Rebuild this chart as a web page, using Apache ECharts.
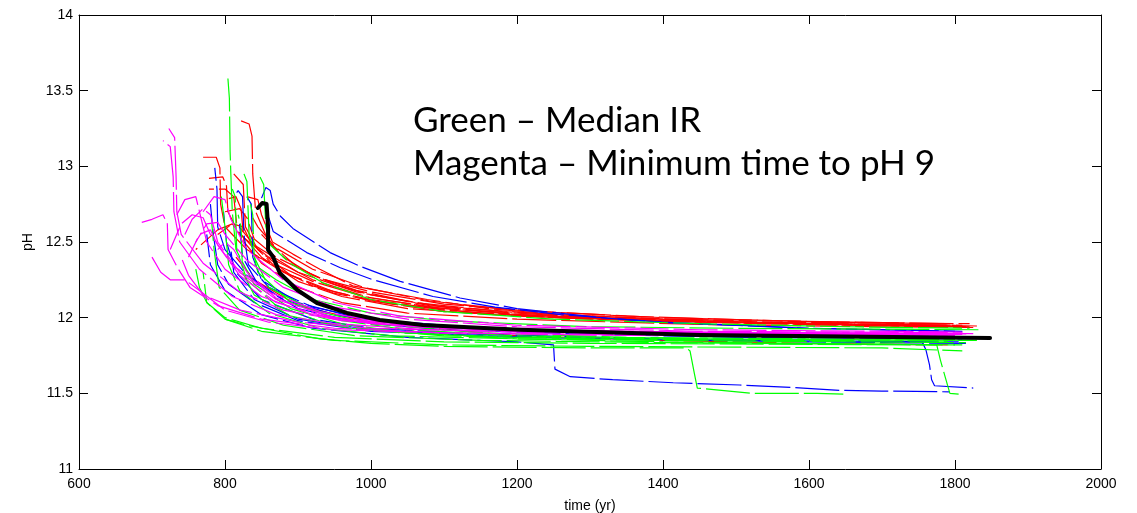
<!DOCTYPE html>
<html>
<head>
<meta charset="utf-8">
<script src="https://cdn.jsdelivr.net/npm/echarts@6/dist/echarts.min.js"></script>
<style>
html,body{margin:0;padding:0;background:#fff;}
#chart{width:1137px;height:513px;}
</style>
</head>
<body>
<div id="chart"></div>
<script>
// Axis ticks
const xTicks = [600, 800, 1000, 1200, 1400, 1600, 1800, 2000];
const yTicks = [11, 11.5, 12, 12.5, 13, 13.5, 14];
const annotationLines = ["Green \u2013 Median IR", "Magenta \u2013 Minimum time to pH 9"];

// Red realisations [time (yr), pH]
const redLines = [
  [[822,13.30],[833,13.28],[837,13.20],[838,12.95],[842,12.70],[860,12.50],[900,12.33],[950,12.22],[1000,12.15],[1100,12.07],[1200,12.02],[1400,11.98],[1600,11.96],[1810,11.95]],
  [[770,13.06],[788,13.06],[793,12.99],[794,12.75],[800,12.60],[830,12.45],[880,12.30],[950,12.17],[1000,12.12],[1100,12.05],[1250,12.00],[1450,11.97],[1650,11.95],[1820,11.94]],
  [[778,12.92],[797,12.93],[802,12.87],[804,12.70],[820,12.55],[860,12.40],[920,12.25],[1000,12.13],[1100,12.06],[1300,12.00],[1500,11.97],[1700,11.95],[1815,11.94]],
  [[778,12.85],[800,12.85],[812,12.80],[816,12.62],[840,12.48],[900,12.30],[980,12.17],[1080,12.08],[1250,12.02],[1500,11.97],[1810,11.94]],
  [[830,12.80],[845,12.78],[850,12.68],[865,12.50],[893,12.42],[930,12.32],[975,12.21],[1077,12.12],[1160,12.06],[1260,12.02],[1400,11.99],[1640,11.97],[1700,11.965],[1770,11.94]],
  [[800,12.70],[820,12.72],[830,12.66],[840,12.52],[870,12.40],[930,12.26],[1000,12.17],[1100,12.09],[1230,12.04],[1400,12.00],[1640,11.97],[1820,11.96]],
  [[790,12.55],[810,12.62],[825,12.60],[835,12.50],[870,12.33],[920,12.21],[1000,12.11],[1100,12.04],[1300,11.99],[1550,11.96],[1800,11.94]],
  [[760,12.45],[790,12.58],[810,12.62],[822,12.55],[850,12.40],[900,12.24],[960,12.14],[1050,12.06],[1200,12.01],[1450,11.97],[1800,11.95]],
  [[812,12.95],[825,12.88],[828,12.60],[845,12.45],[890,12.28],[950,12.16],[1030,12.09],[1150,12.03],[1350,11.99],[1600,11.96],[1805,11.945]],
  [[850,12.55],[860,12.50],[880,12.40],[920,12.28],[980,12.18],[1060,12.10],[1180,12.04],[1350,12.00],[1550,11.97],[1790,11.96]],
  [[845,12.40],[870,12.35],[920,12.24],[990,12.14],[1080,12.07],[1200,12.02],[1400,11.98],[1650,11.955],[1830,11.945]],
  [[800,12.78],[815,12.80],[822,12.72],[826,12.50],[850,12.36],[900,12.20],[960,12.10],[1050,12.03],[1200,11.99],[1450,11.955],[1700,11.94],[1825,11.935]],
  [[838,12.66],[845,12.60],[870,12.46],[920,12.32],[990,12.20],[1080,12.11],[1200,12.05],[1350,12.01],[1550,11.98],[1780,11.96]],
  [[815,12.40],[840,12.25],[900,12.08],[1000,11.97],[1200,11.88],[1400,11.85],[1600,11.83],[1790,11.82]]
];

// Blue realisations
const blueLines = [
  [[850,12.79],[856,12.86],[862,12.84],[866,12.75],[876,12.67],[893,12.59],[944,12.43],[985,12.34],[1040,12.24],[1122,12.13],[1200,12.06],[1314,12.00],[1414,11.965],[1600,11.93],[1810,11.91]],
  [[860,12.66],[866,12.57],[912,12.43],[958,12.33],[1003,12.25],[1085,12.14],[1170,12.07],[1260,12.02],[1400,11.97],[1600,11.93],[1800,11.91]],
  [[786,12.99],[789,12.85],[790,12.60],[800,12.45],[830,12.28],[880,12.12],[950,12.02],[1050,11.95],[1200,11.91],[1400,11.89],[1600,11.88],[1800,11.87]],
  [[812,12.80],[818,12.84],[824,12.80],[826,12.55],[832,12.35],[860,12.20],[920,12.07],[1000,11.99],[1150,11.93],[1350,11.90],[1600,11.88],[1820,11.87]],
  [[830,12.80],[836,12.75],[838,12.40],[850,12.25],[900,12.10],[980,12.00],[1100,11.94],[1300,11.90],[1550,11.88],[1790,11.875]],
  [[775,12.55],[780,12.35],[800,12.18],[850,12.02],[920,11.93],[1050,11.87],[1200,11.84],[1250,11.82],[1252,11.66],[1273,11.61],[1331,11.59],[1414,11.57],[1505,11.555],[1592,11.535],[1642,11.52],[1700,11.515],[1793,11.51]],
  [[798,12.70],[802,12.50],[815,12.30],[850,12.12],[920,11.99],[1000,11.93],[1150,11.89],[1400,11.86],[1600,11.85],[1755,11.84],[1760,11.79],[1765,11.69],[1768,11.59],[1772,11.55],[1825,11.535]],
  [[808,12.45],[812,12.30],[840,12.12],[900,11.99],[1000,11.92],[1150,11.88],[1400,11.855],[1600,11.84],[1815,11.83]],
  [[820,12.62],[824,12.40],[845,12.22],[900,12.06],[980,11.97],[1100,11.92],[1300,11.89],[1500,11.87],[1810,11.86]],
  [[780,12.75],[784,12.55],[790,12.35],[805,12.22],[840,12.10],[900,11.98],[1000,11.91],[1200,11.87],[1500,11.85],[1805,11.84]]
];

// Green realisations
const greenLines = [
  [[804,13.58],[806,13.45],[807,13.10],[808,12.95],[810,12.70],[815,12.45],[840,12.22],[890,12.06],[960,11.96],[1050,11.90],[1200,11.86],[1400,11.84],[1600,11.83],[1810,11.82]],
  [[800,11.99],[830,11.95],[862,11.92],[930,11.86],[1000,11.83],[1100,11.81],[1300,11.80],[1432,11.80],[1437,11.78],[1443,11.63],[1447,11.535],[1523,11.50],[1611,11.50],[1647,11.495]],
  [[770,12.30],[775,12.10],[800,12.00],[850,11.93],[950,11.87],[1100,11.84],[1300,11.83],[1550,11.825],[1775,11.82],[1780,11.72],[1787,11.60],[1793,11.50],[1805,11.495]],
  [[848,12.93],[853,12.88],[856,12.60],[862,12.48],[889,12.36],[934,12.23],[1000,12.12],[1100,12.04],[1250,11.99],[1450,11.96],[1650,11.94],[1820,11.93]],
  [[835,12.75],[838,12.68],[840,12.40],[860,12.20],[920,12.05],[1000,11.96],[1150,11.90],[1350,11.87],[1600,11.86],[1800,11.855]],
  [[782,12.62],[785,12.45],[792,12.20],[820,12.05],[880,11.95],[980,11.88],[1150,11.85],[1400,11.835],[1800,11.82]],
  [[818,12.68],[822,12.60],[824,12.30],[840,12.15],[890,12.01],[970,11.93],[1100,11.88],[1300,11.86],[1550,11.85],[1790,11.845]],
  [[760,12.32],[765,12.20],[775,12.10],[800,11.99],[850,11.91],[950,11.85],[1100,11.82],[1300,11.81],[1500,11.805],[1700,11.80],[1810,11.78]],
  [[826,12.95],[830,12.90],[833,12.55],[845,12.30],[890,12.10],[960,11.98],[1050,11.92],[1200,11.88],[1450,11.86],[1650,11.855],[1825,11.85]],
  [[810,12.85],[814,12.80],[816,12.45],[830,12.25],[870,12.08],[940,11.96],[1040,11.90],[1200,11.87],[1400,11.86],[1600,11.855],[1830,11.85]],
  [[840,12.35],[870,12.25],[920,12.12],[1000,12.03],[1100,11.98],[1300,11.94],[1500,11.93],[1835,11.92]],
  [[795,12.80],[800,12.60],[805,12.35],[820,12.18],[860,12.03],[930,11.93],[1030,11.88],[1200,11.86],[1500,11.845],[1815,11.835]]
];

// Magenta realisations
const magentaLines = [
  [[686,12.63],[700,12.65],[715,12.68],[721,12.62],[722,12.45],[735,12.33],[752,12.20],[790,12.08],[850,11.99],[950,11.93],[1100,11.90],[1300,11.885],[1550,11.88],[1800,11.875]],
  [[723,13.25],[731,13.19],[733,12.93],[734,12.70],[740,12.55],[770,12.36],[820,12.17],[880,12.05],[960,11.98],[1100,11.93],[1300,11.91],[1550,11.895],[1810,11.89]],
  [[715,13.17],[725,13.13],[729,12.93],[730,12.70],[738,12.50],[765,12.32],[810,12.14],[870,12.02],[950,11.96],[1080,11.92],[1300,11.90],[1600,11.89],[1800,11.885]],
  [[734,12.68],[745,12.78],[760,12.80],[765,12.70],[775,12.50],[800,12.32],[850,12.14],[920,12.02],[1000,11.96],[1150,11.92],[1400,11.90],[1800,11.89]],
  [[725,12.45],[740,12.62],[755,12.68],[770,12.66],[780,12.55],[810,12.35],[860,12.17],[930,12.04],[1020,11.97],[1200,11.92],[1500,11.90],[1820,11.895]],
  [[760,12.50],[775,12.62],[790,12.63],[800,12.55],[830,12.38],[880,12.20],[950,12.07],[1050,11.99],[1200,11.94],[1450,11.91],[1810,11.90]],
  [[740,12.40],[750,12.28],[770,12.15],[821,12.05],[900,11.97],[1000,11.93],[1200,11.905],[1500,11.89],[1800,11.885]],
  [[770,12.70],[785,12.80],[800,12.78],[808,12.65],[830,12.45],[880,12.25],[950,12.10],[1040,12.01],[1200,11.95],[1450,11.92],[1815,11.905]],
  [[750,12.40],[765,12.55],[780,12.58],[790,12.48],[820,12.28],[870,12.10],[950,11.99],[1050,11.94],[1250,11.91],[1550,11.895],[1805,11.89]],
  [[790,12.45],[800,12.50],[812,12.45],[830,12.30],[870,12.13],[940,12.01],[1030,11.95],[1200,11.92],[1500,11.90],[1825,11.895]],
  [[700,12.40],[712,12.30],[725,12.25],[745,12.25],[765,12.18],[800,12.05],[860,11.97],[950,11.92],[1100,11.90],[1400,11.885],[1790,11.88]],
  [[745,12.55],[755,12.65],[770,12.72],[780,12.68],[790,12.50],[820,12.30],[870,12.12],[950,12.00],[1080,11.94],[1300,11.91],[1600,11.90],[1815,11.895]]
];

// Black (reference) curve
const blackLine = [[845,12.725],[851,12.758],[857,12.751],[859,12.60],[859,12.447],[866,12.401],[875,12.295],[899,12.183],[926,12.097],[967,12.031],[1012,11.985],[1071,11.952],[1204,11.92],[1451,11.886],[1650,11.875],[1848,11.866]];

const chart = echarts.init(document.getElementById('chart'), null, {renderer: 'canvas'});

function lineSeries(lines, color, startIdx) {
  return lines.map((pts, i) => ({
    type: 'line',
    data: pts,
    showSymbol: false,
    silent: true,
    animation: false,
    lineStyle: {color: color, width: 1.2, type: [44, 5], dashOffset: (i * 13 + startIdx) % 49},
    z: 2
  }));
}

const series = [].concat(
  lineSeries(redLines, '#ff0000', 0),
  lineSeries(blueLines, '#0000ff', 5),
  lineSeries(greenLines, '#00ff00', 11),
  lineSeries(magentaLines, '#ff00ff', 17),
  [{
    type: 'line', data: blackLine, showSymbol: false, silent: true, animation: false,
    lineStyle: {color: '#000000', width: 4, join: 'round', cap: 'round'}, z: 5
  }]
);

const labelFont = {color: '#000', fontFamily: 'Liberation Sans, Arial, sans-serif', fontSize: 14};

chart.setOption({
  backgroundColor: '#ffffff',
  animation: false,
  grid: {left: 79, right: 36, top: 15, bottom: 44, show: false, containLabel: false, outerBoundsMode: 'none'},
  xAxis: [{
    type: 'value', min: xTicks[0], max: xTicks[xTicks.length - 1], interval: 200,
    name: 'time (yr)', nameLocation: 'middle', nameGap: 30,
    nameTextStyle: labelFont,
    axisLine: {show: true, onZero: false, lineStyle: {color: '#000', width: 1}},
    axisTick: {show: true, inside: true, length: 9, lineStyle: {color: '#000'}},
    axisLabel: Object.assign({margin: 8, formatter: v => String(v)}, labelFont),
    splitLine: {show: false}
  }, {
    type: 'value', position: 'top', min: xTicks[0], max: xTicks[xTicks.length - 1], interval: 200,
    axisLine: {show: true, onZero: false, lineStyle: {color: '#000', width: 1}},
    axisTick: {show: true, inside: true, length: 9, lineStyle: {color: '#000'}},
    axisLabel: {show: false}, splitLine: {show: false}
  }],
  yAxis: [{
    type: 'value', min: yTicks[0], max: yTicks[yTicks.length - 1], interval: 0.5,
    name: 'pH', nameLocation: 'middle', nameGap: 44, nameRotate: 90,
    nameTextStyle: labelFont,
    axisLine: {show: true, onZero: false, lineStyle: {color: '#000', width: 1}},
    axisTick: {show: true, inside: true, length: 9, lineStyle: {color: '#000'}},
    axisLabel: Object.assign({margin: 6, formatter: v => String(v)}, labelFont),
    splitLine: {show: false}
  }, {
    type: 'value', position: 'right', min: yTicks[0], max: yTicks[yTicks.length - 1], interval: 0.5,
    axisLine: {show: true, onZero: false, lineStyle: {color: '#000', width: 1}},
    axisTick: {show: true, inside: true, length: 9, lineStyle: {color: '#000'}},
    axisLabel: {show: false}, splitLine: {show: false}
  }],
  graphic: annotationLines.map((t, i) => ({
    type: 'text', left: 413, top: 103 + i * 43, silent: true, z: 10,
    style: {text: t, fill: '#000', font: '35px Lato, "Open Sans", sans-serif'}
  })),
  series: series
});
</script>
</body>
</html>
